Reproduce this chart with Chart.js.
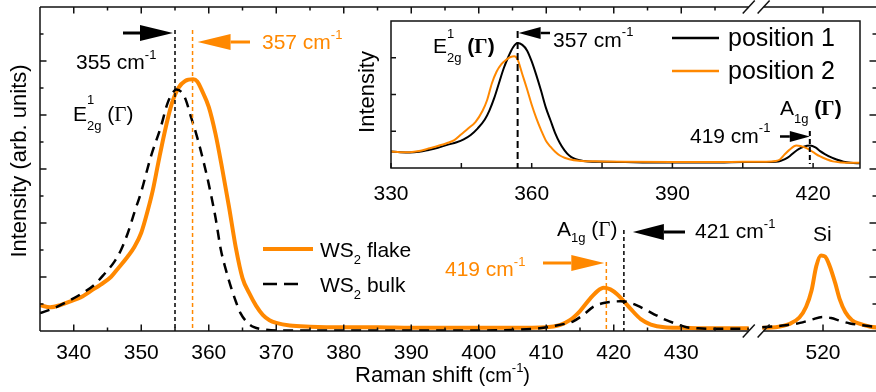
<!DOCTYPE html>
<html><head><meta charset="utf-8">
<script src="https://cdn.jsdelivr.net/npm/chart.js@4"></script>
<style>
html,body{margin:0;padding:0;background:#fff;}
#wrap{position:relative;width:876px;height:392px;overflow:hidden;background:#fff;}
#main{position:absolute;left:0;top:0;}
#inset{position:absolute;left:330px;top:10px;}
</style></head><body>
<div id="wrap"><canvas id="main" width="876" height="392"></canvas><canvas id="inset" width="546" height="200"></canvas></div>
<script>
// ---------- data (main panel) ----------
const flakeShift = [335,336.5,338,339.5,341,342.5,344,345.5,346.5,348,349,350,351,351.7,352.5,353.5,354.5,355.5,356.5,357.7,358.3,359,360,361,362,363,364,365,366,367,368,369,370,372,375,380,385,390,395,400,405,410,412,413.5,415,416.5,417.5,418.5,419.5,420.5,421.5,422.5,424,425.5,427.5,430,435,440,511,513,515,516.5,517.5,518.3,519,519.7,520.3,521,521.8,522.5,523.3,524.3,525.5,527,528.5];
const flakeInt = [0.48,0.44,0.48,0.55,0.62,0.74,0.86,1.0,1.15,1.38,1.56,1.82,2.25,2.6,3.1,3.7,4.2,4.5,4.63,4.66,4.62,4.45,4.15,3.65,3.0,2.3,1.55,0.98,0.70,0.47,0.3,0.2,0.15,0.1,0.08,0.07,0.07,0.06,0.06,0.06,0.06,0.07,0.11,0.2,0.37,0.6,0.73,0.8,0.77,0.68,0.55,0.41,0.22,0.12,0.07,0.06,0.05,0.05,0.06,0.07,0.13,0.25,0.45,0.75,1.2,1.4,1.38,1.2,0.89,0.58,0.35,0.2,0.13,0.08,0.06];
const bulkShift = [335,337,339,341,343,344.5,346,347,348,349,350,351.4,352.9,353.9,354.6,355.2,356,356.6,357.4,358.1,359,360,361,361.8,362.5,363.3,364,364.7,365.7,366.7,368,370,380,390,400,405,409,411,413,414,415.5,417,418.5,419.5,421,422,423.5,424.8,426.3,427.8,429.3,430.8,432.5,435,440,511,514,516.6,518.3,520,521.2,522.5,524,525.5,528.5];
const bulkInt = [0.33,0.42,0.54,0.68,0.85,1.05,1.28,1.5,1.81,2.2,2.58,3.22,3.78,4.22,4.4,4.47,4.42,4.28,3.95,3.67,3.25,2.72,2.1,1.5,1.15,0.81,0.55,0.33,0.16,0.07,0.03,0.01,0.01,0.01,0.01,0.02,0.05,0.09,0.14,0.18,0.3,0.45,0.52,0.54,0.55,0.54,0.47,0.39,0.29,0.2,0.13,0.07,0.05,0.04,0.04,0.07,0.1,0.15,0.21,0.26,0.24,0.19,0.14,0.11,0.07];
const mainTickLabels = [340,350,360,370,380,390,400,410,420,430,520];
const mainMinorTicks = [345,355,365,375,385,395,405,415,425,435];
const peakE2gBulk = 355, peakE2gFlake = 357.6, peakA1gFlake = 418.9, peakA1gBulk = 421.5;

// ---------- data (inset) ----------
const pos1Shift = [330,332,334,336,338,340,342,344,345.5,347,348.5,350,351,352,353,354,355,356,357,358,359,360,361,362,363,364,365,366,367,368,369,370,372,375,380,385,390,395,400,405,408,410,412,413,414,415,416,417,418,419.3,420.5,421.5,422.5,424,425,426.5,428,430];
const pos1Int = [0.45,0.43,0.42,0.44,0.49,0.55,0.63,0.70,0.78,0.90,1.08,1.32,1.57,1.90,2.30,2.70,3.02,3.28,3.40,3.35,3.20,2.90,2.52,2.10,1.65,1.30,0.95,0.68,0.48,0.34,0.26,0.22,0.18,0.17,0.16,0.15,0.15,0.15,0.15,0.16,0.16,0.16,0.17,0.19,0.24,0.32,0.43,0.52,0.58,0.61,0.56,0.46,0.38,0.28,0.23,0.17,0.14,0.13];
const pos2Shift = [330,332,334,336,338,340,342,343.5,345,346.5,348,349.5,350.5,351.5,352.5,353.5,354.5,355.5,356.3,357,358,359,360,361,362,363,364,365,366,367,368,370,375,380,390,400,405,408,410,412,413,414,415,416.4,417.3,418.6,420,421.4,423,424.2,426,428,430];
const pos2Int = [0.45,0.43,0.43,0.46,0.53,0.60,0.68,0.76,0.92,1.08,1.25,1.55,1.85,2.30,2.62,2.82,2.94,3.02,3.04,2.95,2.55,2.15,1.72,1.35,1.03,0.75,0.58,0.44,0.34,0.28,0.24,0.20,0.18,0.17,0.16,0.16,0.17,0.17,0.17,0.19,0.24,0.38,0.50,0.61,0.60,0.54,0.43,0.32,0.23,0.18,0.15,0.14,0.14];
const insetTickLabels = [330,360,390,420];
const insetMinorTicks = [345,375,405];
const insetYTicks = [1,2,3];
const insetPeakE2g = 357, insetPeakA1g = 419.3;

// ---------- helpers ----------
const SANS = '"Liberation Sans", Arial, sans-serif';
const SERIF = '"Liberation Serif", "Times New Roman", serif';
const ORANGE = '#ff8800';
const INK = '#111';
const BREAK_SHIFT = 69;          // 520 cm-1 plotted at 451 on the broken axis
const BREAK_LO = 440, BREAK_HI = 442.2;
function plotX(v){ return v > 480 ? v - BREAK_SHIFT : v; }
function realX(v){ return v > 445 ? v + BREAK_SHIFT : v; }
function toPoints(xs, ys){
  const pts = [];
  for (let i = 0; i < xs.length; i++) {
    if (i > 0 && xs[i-1] < 480 && xs[i] > 480) pts.push({x: (BREAK_LO + BREAK_HI)/2, y: null});
    pts.push({x: plotX(xs[i]), y: ys[i]});
  }
  return pts;
}
function drawParts(ctx, x, y, parts, color){
  let cx = x;
  ctx.save(); ctx.fillStyle = color; ctx.textBaseline = 'alphabetic'; ctx.textAlign = 'left';
  for (const p of parts) {
    const size = p.s || 21;
    ctx.font = (p.b ? 'bold ' : '') + size + 'px ' + (p.serif ? SERIF : SANS);
    ctx.fillText(p.t, cx, y + (p.dy || 0));
    if (!p.keep) cx += ctx.measureText(p.t).width;
  }
  ctx.restore();
}
function arrow(ctx, xFrom, xTip, y, head, half, color, lw){
  const dir = Math.sign(xTip - xFrom);
  const base = xTip - dir * head;
  ctx.save(); ctx.strokeStyle = color; ctx.fillStyle = color; ctx.lineWidth = lw; ctx.setLineDash([]);
  ctx.beginPath(); ctx.moveTo(xFrom, y); ctx.lineTo(base, y); ctx.stroke();
  ctx.beginPath(); ctx.moveTo(xTip, y); ctx.lineTo(base, y - half); ctx.lineTo(base, y + half); ctx.closePath(); ctx.fill();
  ctx.restore();
}
function vdash(ctx, x, y1, y2, color, lw, dash){
  ctx.save(); ctx.strokeStyle = color; ctx.lineWidth = lw; ctx.setLineDash(dash);
  ctx.beginPath(); ctx.moveTo(x, y1); ctx.lineTo(x, y2); ctx.stroke(); ctx.restore();
}
function line(ctx, x1, y1, x2, y2){ ctx.beginPath(); ctx.moveTo(x1, y1); ctx.lineTo(x2, y2); ctx.stroke(); }

// ---------- main chart ----------
const mainPlugin = {
  id: 'mainDecor',
  afterDraw(chart){
    const ctx = chart.ctx, a = chart.chartArea, xs = chart.scales.x, ys = chart.scales.y;
    const L = a.left, R = a.right, T = a.top, B = a.bottom;
    const bl = xs.getPixelForValue(BREAK_LO), bh = xs.getPixelForValue(BREAK_HI);
    ctx.save();
    ctx.strokeStyle = INK; ctx.lineWidth = 1.5; ctx.setLineDash([]);
    // frame
    line(ctx, L, T, L, B);
    line(ctx, L, B, bl, B); line(ctx, bh, B, R, B);
    line(ctx, L, T, bl, T); line(ctx, bh, T, R, T);
    // break marks
    for (const yy of [B, T]) {
      line(ctx, bl - 6, yy + 6.5, bl + 6, yy - 6.5);
      line(ctx, bh - 6, yy + 6.5, bh + 6, yy - 6.5);
    }
    // x ticks (inward, top and bottom)
    const xt = mainTickLabels.map(v => [plotX(v), 6.5]).concat(mainMinorTicks.map(v => [plotX(v), 3.5]));
    for (const [v, len] of xt) {
      const px = xs.getPixelForValue(v);
      line(ctx, px, B, px, B - len);
      line(ctx, px, T, px, T + len);
    }
    // y ticks (inward, left and right)
    for (let v = 0.5; v < 6; v += 0.5) {
      const py = ys.getPixelForValue(v);
      const len = Number.isInteger(v) ? 6.5 : 3.5;
      line(ctx, L, py, L + len, py);
      line(ctx, R, py, R - len, py);
    }
    ctx.restore();

    // peak markers
    const pE2gB = xs.getPixelForValue(peakE2gBulk), pE2gF = xs.getPixelForValue(peakE2gFlake);
    const pA1gF = xs.getPixelForValue(peakA1gFlake), pA1gB = xs.getPixelForValue(peakA1gBulk);
    vdash(ctx, pE2gB, 30, B, '#000', 1.5, [4,3]);
    vdash(ctx, pE2gF, 30, B, ORANGE, 1.5, [4,3]);
    vdash(ctx, pA1gF, 262, B, ORANGE, 1.5, [4,3]);
    vdash(ctx, pA1gB, 230, B, '#000', 1.5, [4,3]);
    arrow(ctx, 123, pE2gB - 2, 33, 33, 8, '#000', 3);
    arrow(ctx, 250, pE2gF + 5, 42, 33, 8, ORANGE, 3);
    arrow(ctx, 685, pA1gB + 9, 232, 31, 8, '#000', 3);
    arrow(ctx, 543, pA1gF - 2, 263, 33, 8, ORANGE, 3);

    // annotation text
    drawParts(ctx, 76, 69, [{t:'355 cm'},{t:'-1', s:13, dy:-10}], '#000');
    drawParts(ctx, 262, 49, [{t:'357 cm'},{t:'-1', s:13, dy:-10}], ORANGE);
    drawParts(ctx, 73, 121, [{t:'E'},{t:'1', s:13, dy:-17, keep:true},{t:'2g', s:13, dy:9},{t:' ('},{t:'\u0393', serif:true},{t:')'}], '#000');
    drawParts(ctx, 557, 236, [{t:'A'},{t:'1g', s:13, dy:6},{t:' ('},{t:'\u0393', serif:true},{t:')'}], '#000');
    drawParts(ctx, 695, 238, [{t:'421 cm'},{t:'-1', s:13, dy:-10}], '#000');
    drawParts(ctx, 445, 276, [{t:'419 cm'},{t:'-1', s:13, dy:-10}], ORANGE);
    drawParts(ctx, 813, 241, [{t:'Si'}], '#000');

    // legend
    ctx.save();
    ctx.strokeStyle = ORANGE; ctx.lineWidth = 4; line(ctx, 263, 249, 313, 249);
    ctx.strokeStyle = '#000'; ctx.lineWidth = 2.5; ctx.setLineDash([14,7]); line(ctx, 263, 284, 300, 284);
    ctx.restore();
    drawParts(ctx, 320, 257, [{t:'WS'},{t:'2', s:13, dy:7},{t:' flake'}], '#000');
    drawParts(ctx, 320, 292, [{t:'WS'},{t:'2', s:13, dy:7},{t:' bulk'}], '#000');

    // axis titles
    drawParts(ctx, 355, 382, [{t:'Raman shift ', s:22},{t:'(cm', s:20},{t:'-1', s:13, dy:-10},{t:')', s:20}], '#000');
    ctx.save();
    ctx.translate(20, 161); ctx.rotate(-Math.PI/2);
    ctx.font = '22px ' + SANS; ctx.fillStyle = '#000'; ctx.textAlign = 'center'; ctx.textBaseline = 'middle';
    ctx.fillText('Intensity (arb. units)', 0, 0);
    ctx.restore();
  }
};

new Chart(document.getElementById('main'), {
  type: 'line',
  data: { datasets: [
    { label: 'WS2 bulk', data: toPoints(bulkShift, bulkInt), borderColor: '#000', borderWidth: 2.5, borderDash: [10,7],
      pointRadius: 0, cubicInterpolationMode: 'monotone', fill: false, spanGaps: false },
    { label: 'WS2 flake', data: toPoints(flakeShift, flakeInt), borderColor: ORANGE, borderWidth: 4,
      pointRadius: 0, cubicInterpolationMode: 'monotone', fill: false, spanGaps: false }
  ]},
  options: {
    responsive: false, animation: false, events: [],
    layout: { padding: { top: 7, left: 0, right: 0, bottom: 0 } },
    plugins: { legend: { display: false }, tooltip: { enabled: false } },
    scales: {
      x: { type: 'linear', min: 335, max: 458.85,
        grid: { display: false, drawTicks: false }, border: { display: false },
        afterBuildTicks: ax => { ax.ticks = mainTickLabels.map(v => ({ value: plotX(v) })); },
        afterFit: ax => { ax.height = 61; },
        ticks: { autoSkip: false, maxRotation: 0, padding: 10, color: '#000', font: { family: SANS, size: 21 },
          callback: v => String(Math.round(realX(v))) } },
      y: { min: 0, max: 6, grid: { display: false, drawTicks: false }, border: { display: false },
        ticks: { display: false }, afterFit: ax => { ax.width = 40; } }
    }
  },
  plugins: [mainPlugin]
});

// ---------- inset chart ----------
const OX = 330, OY = 10;
const insetPlugin = {
  id: 'insetDecor',
  beforeDatasetsDraw(chart){
    const ctx = chart.ctx, a = chart.chartArea;
    ctx.save(); ctx.fillStyle = '#fff'; ctx.fillRect(a.left, a.top, a.right - a.left, a.bottom - a.top); ctx.restore();
  },
  afterDraw(chart){
    const ctx = chart.ctx, a = chart.chartArea, xs = chart.scales.x, ys = chart.scales.y;
    ctx.save(); ctx.strokeStyle = INK; ctx.lineWidth = 1.5; ctx.setLineDash([]);
    ctx.strokeRect(a.left, a.top, a.right - a.left, a.bottom - a.top);
    for (const v of insetTickLabels.concat(insetMinorTicks)) {
      const px = xs.getPixelForValue(v); line(ctx, px, a.bottom, px, a.bottom - 5);
    }
    for (const v of insetYTicks) {
      const py = ys.getPixelForValue(v); line(ctx, a.left, py, a.left + 5, py);
    }
    ctx.restore();

    const pE = xs.getPixelForValue(insetPeakE2g), pA = xs.getPixelForValue(insetPeakA1g);
    vdash(ctx, pE, 31 - OY, a.bottom, '#000', 2, [7,4]);
    vdash(ctx, pA, 131 - OY, 164 - OY, '#000', 2, [5,3]);
    arrow(ctx, 550 - OX, pE + 1, 33 - OY, 22, 6, '#000', 2.5);
    arrow(ctx, 780 - OX, pA, 136.5 - OY, 20, 5.5, '#000', 2.5);

    drawParts(ctx, 433 - OX, 53 - OY, [{t:'E'},{t:'1', s:13, dy:-15, keep:true},{t:'2g', s:13, dy:9},{t:' '},{t:'(', b:true},{t:'\u0393', serif:true, b:true},{t:')', b:true}], '#000');
    drawParts(ctx, 553 - OX, 47 - OY, [{t:'357 cm'},{t:'-1', s:13, dy:-11}], '#000');
    drawParts(ctx, 780 - OX, 115 - OY, [{t:'A'},{t:'1g', s:13, dy:8},{t:' '},{t:'(', b:true},{t:'\u0393', serif:true, b:true},{t:')', b:true}], '#000');
    drawParts(ctx, 690 - OX, 143 - OY, [{t:'419 cm'},{t:'-1', s:13, dy:-11}], '#000');

    // legend
    ctx.save(); ctx.lineWidth = 2.5;
    ctx.strokeStyle = '#000'; line(ctx, 672 - OX, 38 - OY, 719 - OX, 38 - OY);
    ctx.strokeStyle = ORANGE; line(ctx, 672 - OX, 71 - OY, 719 - OX, 71 - OY);
    ctx.restore();
    drawParts(ctx, 728 - OX, 46 - OY, [{t:'position 1', s:25}], '#000');
    drawParts(ctx, 728 - OX, 79 - OY, [{t:'position 2', s:25}], '#000');

    ctx.save();
    ctx.translate(368 - OX, 92 - OY); ctx.rotate(-Math.PI/2);
    ctx.font = '22px ' + SANS; ctx.fillStyle = '#000'; ctx.textAlign = 'center'; ctx.textBaseline = 'middle';
    ctx.fillText('Intensity', 0, 0);
    ctx.restore();
  }
};

new Chart(document.getElementById('inset'), {
  type: 'line',
  data: { datasets: [
    { label: 'position 2', data: pos2Shift.map((x, i) => ({ x, y: pos2Int[i] })), borderColor: ORANGE, borderWidth: 2,
      pointRadius: 0, cubicInterpolationMode: 'monotone', fill: false },
    { label: 'position 1', data: pos1Shift.map((x, i) => ({ x, y: pos1Int[i] })), borderColor: '#000', borderWidth: 2,
      pointRadius: 0, cubicInterpolationMode: 'monotone', fill: false }
  ]},
  options: {
    responsive: false, animation: false, events: [],
    layout: { padding: { top: 11, left: 0, right: 16, bottom: 0 } },
    plugins: { legend: { display: false }, tooltip: { enabled: false } },
    scales: {
      x: { type: 'linear', min: 330, max: 430,
        grid: { display: false, drawTicks: false }, border: { display: false },
        afterBuildTicks: ax => { ax.ticks = insetTickLabels.map(v => ({ value: v })); },
        afterFit: ax => { ax.height = 42; },
        ticks: { autoSkip: false, maxRotation: 0, padding: 14, color: '#000', font: { family: SANS, size: 21 } } },
      y: { min: 0, max: 4, grid: { display: false, drawTicks: false }, border: { display: false },
        ticks: { display: false }, afterFit: ax => { ax.width = 61; } }
    }
  },
  plugins: [insetPlugin]
});
</script>
</body></html>
